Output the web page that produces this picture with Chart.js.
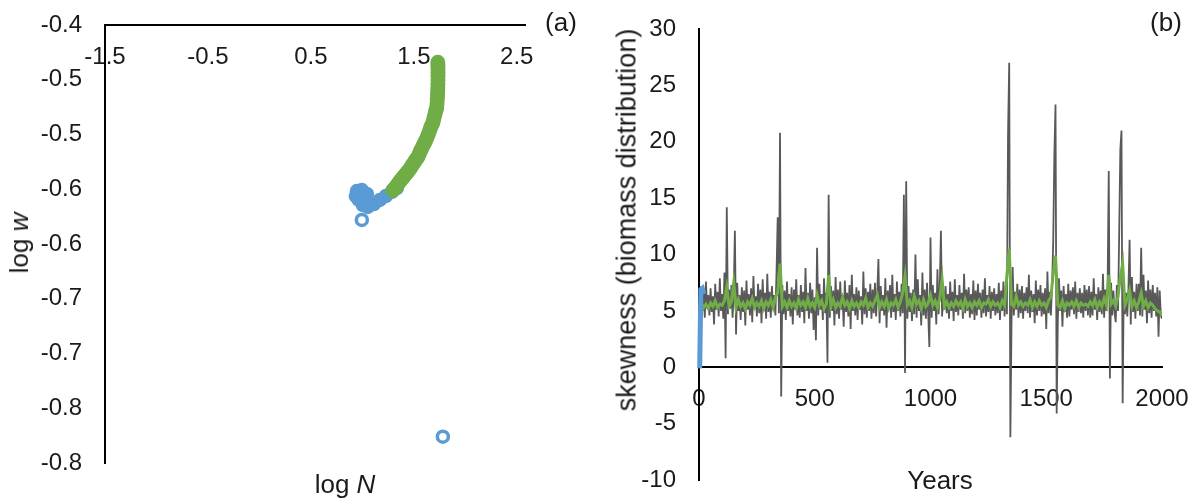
<!DOCTYPE html>
<html>
<head>
<meta charset="utf-8">
<script src="https://cdn.jsdelivr.net/npm/chart.js@4.4.1/dist/chart.umd.min.js"></script>
<style>
  body { margin: 0; background: #fff; width: 1200px; height: 503px; position: relative; overflow: hidden;
         font-family: "Liberation Sans", Arial, sans-serif; color: #1a1a1a; }
  canvas { position: absolute; top: 0; }
  #cA { left: 0; }
  #cB { left: 600px; }
  .lbl { position: absolute; font-size: 26px; line-height: 1; white-space: nowrap; transform: translate(-50%, -50%); }
  .rot { transform: translate(-50%, -50%) rotate(-90deg); }
</style>
</head>
<body>
<canvas id="cA" width="600" height="503"></canvas>
<canvas id="cB" width="600" height="503"></canvas>
<div class="lbl" style="left:561px;top:22px">(a)</div>
<div class="lbl" style="left:1166px;top:22px">(b)</div>
<div class="lbl rot" style="left:19px;top:243px">log <i>w</i></div>
<div class="lbl" style="left:345px;top:484px">log <i>N</i></div>
<div class="lbl rot" style="left:627px;top:220px;font-size:27px">skewness (biomass distribution)</div>
<div class="lbl" style="left:940px;top:480px">Years</div>
<script>
// painel (a): log N x log w
const greenN = [1.733, 1.734, 1.735, 1.735, 1.735, 1.735, 1.734, 1.733, 1.732, 1.730, 1.728, 1.726, 1.723,
                1.718, 1.712, 1.705, 1.698, 1.691, 1.684, 1.673, 1.662, 1.651, 1.640, 1.629, 1.617, 1.604,
                1.591, 1.578, 1.565, 1.552, 1.539, 1.526, 1.512, 1.499, 1.485, 1.472, 1.458, 1.445, 1.432,
                1.419, 1.406, 1.393, 1.380, 1.367, 1.354, 1.340, 1.325, 1.311, 1.296];
const greenW = [-0.434, -0.437, -0.440, -0.4435, -0.447, -0.4505, -0.454, -0.4575, -0.461, -0.4645, -0.468, -0.4715, -0.475,
                -0.477, -0.479, -0.4815, -0.484, -0.4868, -0.4895, -0.4918, -0.494, -0.497, -0.500, -0.5025, -0.505, -0.5075,
                -0.510, -0.5125, -0.515, -0.5178, -0.5205, -0.5223, -0.524, -0.526, -0.528, -0.530, -0.532, -0.5335, -0.535,
                -0.5365, -0.538, -0.5395, -0.541, -0.5425, -0.544, -0.546, -0.548, -0.5495, -0.551];
const blueN = [0.947, 0.937, 0.995, 1.044, 0.966, 1.005, 1.053, 1.112, 1.170, 1.228, 1.286, 1.335, 0.990, 1.020];
const blueW = [-0.5516, -0.5562, -0.5507, -0.5543, -0.5598, -0.5644, -0.5662, -0.5635, -0.5598, -0.5562, -0.5525, -0.5489, -0.5570, -0.5600];
const blueOpenN = [0.995, 1.782];
const blueOpenW = [-0.578, -0.776];
const xTicksA = [-1.5, -0.5, 0.5, 1.5, 2.5];
const yTicksA = [-0.8, -0.75, -0.7, -0.65, -0.6, -0.55, -0.5, -0.45, -0.4];
const yLabelsA = ["-0.8", "-0.8", "-0.7", "-0.7", "-0.6", "-0.6", "-0.5", "-0.5", "-0.4"];

// painel (b): skewness ao longo dos anos
const grayStep = 5;   // cinza: um valor a cada 5 anos
const grayVals = [
  6.0, 4.8, 7.2, 5.0, 6.6, 4.4, 7.6, 5.2, 6.4, 4.6,
  7.0, 4.9, 6.3, 3.8, 7.4, 5.1, 6.7, 4.5, 7.9, 5.0,
  6.5, 4.3, 8.4, 0.8, 14.2, 4.7, 6.9, 5.2, 7.3, 4.4,
  6.6, 12.1, 2.9, 7.5, 5.0, 6.4, 4.2, 7.1, 4.9, 6.8,
  3.7, 7.7, 5.1, 6.5, 4.6, 7.0, 4.0, 8.1, 5.2, 6.3,
  4.5, 7.4, 4.8, 6.9, 3.9, 7.8, 5.0, 6.6, 4.3, 8.3,
  4.9, 6.7, 4.4, 7.2, 5.1, 6.4, 4.6, 8.6, 13.3, 4.8,
  20.8, -2.6, 7.3, 4.7, 6.8, 4.2, 7.6, 5.0, 6.5, 4.5,
  7.1, 3.8, 6.9, 5.1, 7.8, 4.6, 6.4, 4.4, 7.3, 4.9,
  6.7, 3.9, 8.8, 5.0, 6.6, 4.3, 7.5, 4.8, 6.9, 3.3,
  6.2, 2.4, 10.6, 4.6, 7.4, 5.1, 6.5, 4.2, 7.9, 4.8,
  6.6, 0.4, 15.3, 4.4, 7.2, 5.0, 6.8, 3.7, 8.0, 4.7,
  6.9, 4.3, 7.6, 5.1, 6.4, 3.6, 7.7, 4.9, 6.6, 4.5,
  7.3, 3.4, 8.2, 5.0, 6.5, 4.6, 7.1, 4.2, 6.8, 5.1,
  6.3, 3.8, 8.5, 4.7, 7.0, 4.4, 6.7, 5.0, 7.4, 4.3,
  6.9, 4.8, 7.5, 4.5, 6.6, 9.6, 3.9, 7.2, 5.0, 6.4,
  4.6, 7.9, 3.5, 6.8, 5.1, 7.3, 4.4, 8.2, 4.9, 6.5,
  4.2, 7.6, 5.0, 6.7, 4.5, 7.4, 4.8, 15.3, -0.5, 16.5,
  4.3, 7.2, 4.9, 6.6, 4.1, 6.9, 4.7, 10.0, 4.4, 7.8,
  5.0, 6.4, 3.7, 8.4, 4.6, 6.9, 4.3, 7.5, 4.8, 1.8,
  11.5, 4.4, 7.3, 5.0, 6.6, 3.8, 8.7, 4.7, 7.0, 12.1,
  4.5, 6.8, 5.1, 7.2, 4.8, 6.5, 4.3, 7.6, 5.0, 6.7,
  4.1, 7.8, 4.9, 6.4, 4.6, 7.3, 5.1, 6.6, 4.3, 8.3,
  4.8, 6.9, 5.0, 7.1, 4.4, 6.5, 4.7, 7.7, 4.2, 6.8,
  4.6, 7.4, 5.1, 6.6, 4.4, 6.9, 4.8, 7.9, 4.5, 6.4,
  4.9, 7.2, 4.3, 6.7, 5.0, 7.0, 4.6, 6.5, 4.8, 7.5,
  4.2, 6.8, 5.0, 7.6, 4.5, 7.1, 4.7, 20.8, 27.0, -6.2,
  4.0, 8.9, 4.6, 6.7, 5.1, 7.4, 4.4, 6.9, 4.8, 7.2,
  4.3, 6.6, 5.0, 7.1, 4.8, 8.2, 4.4, 6.8, 4.9, 6.5,
  3.9, 7.7, 4.6, 6.9, 5.0, 7.3, 4.5, 6.6, 4.7, 7.0,
  3.4, 8.5, 4.8, 6.7, 4.6, 7.2, 11.0, 18.8, 23.3, -4.1,
  4.2, 7.9, 5.0, 6.8, 3.6, 7.2, 4.9, 6.5, 4.4, 7.4,
  4.5, 6.8, 5.1, 7.1, 4.7, 7.6, 4.3, 6.6, 4.9, 7.0,
  4.8, 6.6, 4.4, 7.3, 5.0, 6.9, 4.6, 7.2, 4.4, 6.7,
  4.6, 7.9, 5.1, 6.5, 4.2, 7.1, 4.9, 6.8, 4.7, 8.3,
  4.4, 6.9, 5.0, 7.2, 17.4, -1.0, 7.5, 4.6, 6.8, 4.9,
  4.0, 7.3, 5.0, 11.8, 19.3, 21.0, -3.2, 7.6, 4.7, 6.6,
  4.5, 7.0, 11.3, 3.8, 8.0, 4.9, 6.7, 4.3, 7.4, 5.0,
  7.4, 4.6, 10.6, 4.5, 8.2, 5.1, 6.8, 3.9, 7.7, 4.8,
  6.9, 4.4, 7.3, 5.0, 6.6, 4.5, 7.1, 2.7, 6.8, 4.6,
  4.3
];
const greenStep = 10; // verde: um valor a cada 10 anos
const greenVals = [
  6.4, 5.7, 5.3, 5.6, 5.2, 5.7, 5.4, 5.9, 5.3, 5.6,
  5.5, 5.9, 7.1, 5.4, 5.8, 7.5, 5.3, 6.0, 5.4, 5.7,
  5.2, 5.8, 5.5, 6.1, 5.3, 5.7, 5.4, 5.9, 5.2, 5.8,
  5.5, 6.0, 5.3, 6.2, 6.6, 9.2, 5.4, 5.8, 5.3, 5.9,
  5.4, 5.7, 5.2, 6.0, 5.5, 5.8, 5.3, 6.1, 5.4, 5.7,
  5.3, 6.4, 5.5, 5.9, 5.2, 5.6, 8.2, 5.4, 6.0, 5.3,
  5.7, 5.4, 6.2, 5.5, 5.8, 5.2, 5.9, 5.4, 5.7, 5.3,
  5.8, 5.5, 6.1, 5.3, 5.7, 5.4, 5.9, 6.4, 5.3, 5.8,
  5.4, 6.0, 5.2, 5.7, 5.5, 6.0, 5.3, 5.8, 6.6, 8.1,
  5.5, 5.9, 5.3, 6.3, 5.6, 5.9, 5.2, 6.0, 5.4, 5.7,
  6.4, 5.5, 5.9, 5.3, 6.1, 7.8, 5.4, 5.8, 5.3, 5.7,
  5.4, 5.9, 5.5, 5.8, 5.2, 6.0, 5.4, 5.7, 5.3, 5.8,
  5.5, 5.9, 5.3, 5.7, 5.6, 6.0, 5.4, 5.8, 5.5, 5.7,
  5.3, 5.9, 5.5, 8.1, 10.5, 5.6, 5.4, 6.3, 5.5, 5.8,
  5.4, 5.7, 5.5, 6.0, 5.3, 5.8, 5.4, 5.9, 5.5, 5.7,
  5.3, 5.9, 6.2, 8.3, 9.9, 5.5, 5.3, 5.9, 5.2, 5.7,
  5.5, 5.8, 5.4, 5.9, 5.3, 5.7, 5.5, 5.6, 5.4, 5.8,
  5.5, 6.0, 5.3, 5.8, 5.4, 6.1, 5.5, 8.2, 5.6, 5.9,
  5.4, 6.3, 8.0, 9.2, 5.5, 6.0, 6.8, 5.4, 5.9, 5.3,
  5.8, 6.6, 5.4, 5.9, 5.3, 5.7, 5.5, 5.2, 5.0, 4.9,
  4.6
];
const blueYears = [3, 8, 14, 20];
const blueVals = [-0.1, 6.9, 7.0, 6.5];

const GREEN = "#70ad47";
const BLUE = "#5b9bd5";
const GRAY = "#595959";

Chart.defaults.font.family = '"Liberation Sans", Arial, sans-serif';
Chart.defaults.font.size = 24;
Chart.defaults.color = "#1a1a1a";

function pts(xs, ys) {
  return xs.map((x, i) => ({ x: x, y: ys[i] }));
}
function serie(vals, step) {
  return vals.map((v, i) => ({ x: i * step, y: v }));
}
// tira o "respiro" que o Chart.js reserva para os rótulos nas pontas
function semRespiro(s) {
  s.paddingTop = 0; s.paddingBottom = 0; s.paddingLeft = 0; s.paddingRight = 0;
}
const semGrade = { drawOnChartArea: false, drawTicks: false };
const borda = { color: "#000", width: 2 };

new Chart(document.getElementById("cA"), {
  type: "scatter",
  data: {
    datasets: [
      { data: pts(greenN, greenW), backgroundColor: GREEN, borderColor: GREEN, pointRadius: 6, borderWidth: 3, order: 0 },
      { data: pts(blueN, blueW), backgroundColor: BLUE, borderColor: BLUE, pointRadius: 5.5, borderWidth: 3.5, order: 1 },
      { data: pts(blueOpenN, blueOpenW), backgroundColor: "#fff", borderColor: BLUE, pointRadius: 5.5, borderWidth: 3.5, order: 2 }
    ]
  },
  options: {
    responsive: false,
    animation: false,
    layout: { padding: { left: 40, top: 25, right: 75, bottom: 40 } },
    plugins: { legend: { display: false }, tooltip: { enabled: false } },
    scales: {
      x: {
        type: "linear", position: { y: -0.4 }, min: -1.5, max: 2.58,
        afterBuildTicks: s => { s.ticks = xTicksA.map(v => ({ value: v })); },
        afterFit: semRespiro,
        ticks: { padding: 18, callback: v => String(v) },
        grid: semGrade, border: borda
      },
      y: {
        type: "linear", position: "left", min: -0.8, max: -0.4,
        afterBuildTicks: s => { s.ticks = yTicksA.map(v => ({ value: v })); },
        afterFit: s => { s.width = 65; semRespiro(s); },
        ticks: { padding: 23, callback: (v, i) => yLabelsA[i] },
        grid: semGrade, border: borda
      }
    }
  }
});

new Chart(document.getElementById("cB"), {
  type: "line",
  data: {
    datasets: [
      { data: pts(blueYears, blueVals), borderColor: BLUE, borderWidth: 5, pointRadius: 0, clip: false, order: 0 },
      { data: serie(greenVals, greenStep), borderColor: GREEN, borderWidth: 3, pointRadius: 0, order: 1 },
      { data: serie(grayVals, grayStep), borderColor: GRAY, borderWidth: 1.8, pointRadius: 0, order: 2 }
    ]
  },
  options: {
    responsive: false,
    animation: false,
    layout: { padding: { left: 29, top: 29, right: 38, bottom: 23 } },
    plugins: { legend: { display: false }, tooltip: { enabled: false } },
    scales: {
      x: {
        type: "linear", position: { y: 0 }, min: 0, max: 2000,
        afterFit: semRespiro,
        ticks: { stepSize: 500, padding: 18, callback: v => String(v) },
        grid: semGrade, border: borda
      },
      y: {
        type: "linear", position: "left", min: -10, max: 30,
        afterFit: s => { s.width = 70; semRespiro(s); },
        ticks: { stepSize: 5, padding: 23 },
        grid: semGrade, border: borda
      }
    }
  }
});
</script>
</body>
</html>
